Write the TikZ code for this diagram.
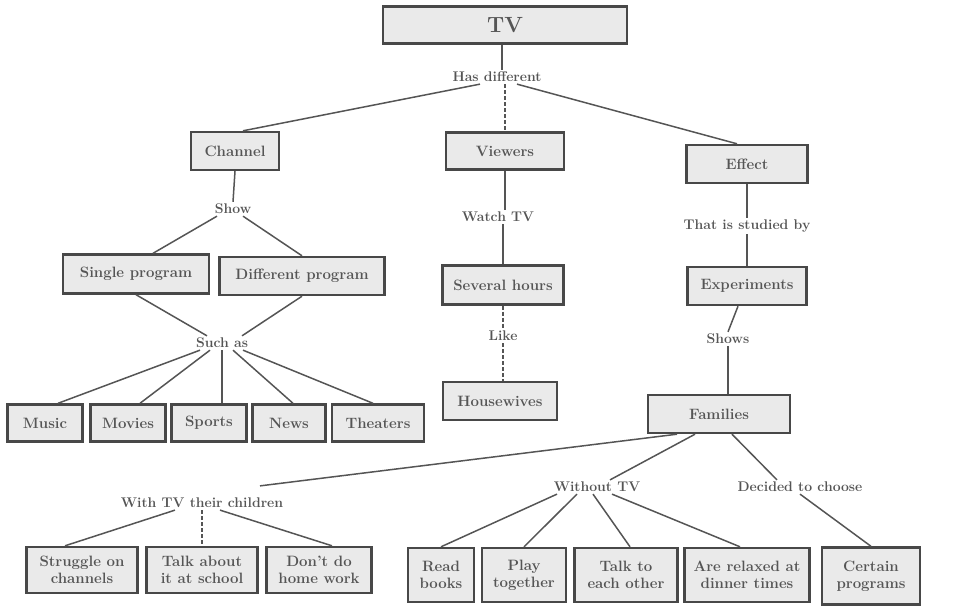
\documentclass[tikz,border=0pt]{standalone}
\usepackage{tikz}
\definecolor{boxline}{RGB}{72,72,72}
\definecolor{boxfill}{RGB}{234,234,234}
\definecolor{labeltext}{RGB}{85,85,85}
\definecolor{linkline}{RGB}{85,85,85}
\tikzset{
  box/.style={draw=boxline, line width=2.4pt, fill=boxfill, text=labeltext, inner sep=2pt, align=center, font=\fontsize{15}{17}\selectfont\bfseries},
  relation/.style={text=labeltext, inner sep=2pt, font=\fontsize{14}{16}\selectfont\bfseries},
  link/.style={draw=linkline, line width=1.5pt},
  dlink/.style={link, dash pattern=on 4pt off 2pt}
}

\begin{document}
\begin{tikzpicture}[x=1pt,y=1pt,yscale=-1,xscale=1]
\useasboundingbox (0,0) rectangle (971,610);

% Text Node
\node [box, minimum width=244, minimum height=37, font=\fontsize{22}{24}\selectfont\bfseries] (tv) at (505,25) {TV};
% Text Node
\node [relation] (hasdiff) at (497,77) {Has different};
% Text Node
\node [box, minimum width=88, minimum height=38] (channel) at (235,151) {Channel};
% Text Node
\node [box, minimum width=118, minimum height=37] (viewers) at (505,151) {Viewers};
% Text Node
\node [box, minimum width=121, minimum height=38] (effect) at (747,164) {Effect};
% Text Node
\node [relation] (show) at (233,209) {Show};
% Text Node
\node [relation] (watch) at (498,217) {Watch TV};
% Text Node
\node [relation] (studied) at (747,226) {That is studied by};
% Text Node
\node [box, minimum width=146, minimum height=39] (single) at (136,274) {Single program};
% Text Node
\node [box, minimum width=165, minimum height=38] (different) at (302,276) {Different program};
% Text Node
\node [box, minimum width=121, minimum height=39] (several) at (503,285) {Several hours};
% Text Node
\node [box, minimum width=119, minimum height=38] (experiments) at (747,286) {Experiments};
% Text Node
\node [relation] (suchas) at (222,343) {Such as};
% Text Node
\node [relation] (like) at (503,336) {Like};
% Text Node
\node [relation] (shows) at (728,339) {Shows};
% Text Node
\node [box, minimum width=75, minimum height=37] (music) at (45,423) {Music};
% Text Node
\node [box, minimum width=75, minimum height=37] (movies) at (128,423) {Movies};
% Text Node
\node [box, minimum width=75, minimum height=37] (sports) at (209,423) {Sports};
% Text Node
\node [box, minimum width=73, minimum height=37] (news) at (289,423) {News};
% Text Node
\node [box, minimum width=92, minimum height=37] (theaters) at (378,423) {Theaters};
% Text Node
\node [box, minimum width=114, minimum height=38] (housewives) at (500,401) {Housewives};
% Text Node
\node [box, minimum width=142, minimum height=38] (families) at (719,414) {Families};
% Text Node
\node [relation] (withtv) at (202,503) {With TV their children};
% Text Node
\node [relation] (without) at (597,487) {Without TV};
% Text Node
\node [relation] (decided) at (800,487) {Decided to choose};
% Text Node
\node [box, minimum width=111, minimum height=46] (struggle) at (82,570) {Struggle on\\channels};
% Text Node
\node [box, minimum width=111, minimum height=46] (talkabout) at (202,570) {Talk about\\it at school};
% Text Node
\node [box, minimum width=105, minimum height=46] (dontdo) at (319,570) {Don't do\\home work};
% Text Node
\node [box, minimum width=66, minimum height=54] (readbooks) at (441,575) {Read\\books};
% Text Node
\node [box, minimum width=84, minimum height=54] (play) at (524,575) {Play\\together};
% Text Node
\node [box, minimum width=103, minimum height=54] (talkto) at (626,575) {Talk to\\each other};
% Text Node
\node [box, minimum width=125, minimum height=54] (relaxed) at (747,575) {Are relaxed at\\dinner times};
% Text Node
\node [box, minimum width=98, minimum height=57] (certain) at (871,576) {Certain\\programs};

% Connection
\draw [link] ([xshift=-3]tv.south) -- ([xshift=-3]tv.south |- hasdiff.north);
% Connection
\draw [link] ([xshift=-17]hasdiff.south) -- ([xshift=8]channel.north);
% Connection
\draw [dlink] (viewers.north |- hasdiff.south) -- (viewers.north);
% Connection
\draw [link] ([xshift=20]hasdiff.south) -- ([xshift=-10]effect.north);
% Connection
\draw [link] (channel.south) -- (show.north);
% Connection
\draw [link] ([xshift=-16]show.south) -- ([xshift=17]single.north);
% Connection
\draw [link] ([xshift=10]show.south) -- (different.north);
% Connection
\draw [link] (single.south) -- ([xshift=-15]suchas.north);
% Connection
\draw [link] (different.south) -- ([xshift=20]suchas.north);
% Connection
\draw [link] ([xshift=-22]suchas.south) -- ([xshift=13]music.north);
% Connection
\draw [link] ([xshift=-12]suchas.south) -- ([xshift=12]movies.north);
% Connection
\draw [link] (suchas.south) -- (suchas.south |- sports.north);
% Connection
\draw [link] ([xshift=11]suchas.south) -- ([xshift=4]news.north);
% Connection
\draw [link] ([xshift=21]suchas.south) -- ([xshift=-5]theaters.north);
% Connection
\draw [link] (viewers.south) -- (watch.north -| viewers.south);
% Connection
\draw [link] (watch.south -| several.north) -- (several.north);
% Connection
\draw [dlink] (several.south) -- (like.north);
% Connection
\draw [dlink] (like.south) -- (like.south |- housewives.north);
% Connection
\draw [link] (effect.south) -- (studied.north);
% Connection
\draw [link] (studied.south) -- (experiments.north);
% Connection
\draw [link] ([xshift=-9]experiments.south) -- (shows.north);
% Connection
\draw [link] (shows.south) -- (shows.south |- families.north);
% Connection
\draw [link] ([xshift=-42]families.south) -- ([xshift=58,yshift=-10]withtv.north);
% Connection
\draw [link] ([xshift=-24]families.south) -- ([xshift=13]without.north);
% Connection
\draw [link] ([xshift=13]families.south) -- ([xshift=-23]decided.north);
% Connection
\draw [link] ([xshift=-27]withtv.south) -- ([xshift=-17]struggle.north);
% Connection
\draw [dlink] (withtv.south) -- (withtv.south |- talkabout.north);
% Connection
\draw [link] ([xshift=18]withtv.south) -- ([xshift=13]dontdo.north);
% Connection
\draw [link] ([xshift=-40]without.south) -- (readbooks.north);
% Connection
\draw [link] ([xshift=-20]without.south) -- (play.north);
% Connection
\draw [link] ([xshift=-4]without.south) -- ([xshift=4]talkto.north);
% Connection
\draw [link] ([xshift=15]without.south) -- ([xshift=-7]relaxed.north);
% Connection
\draw [link] (decided.south) -- (certain.north);

\end{tikzpicture}
\end{document}
